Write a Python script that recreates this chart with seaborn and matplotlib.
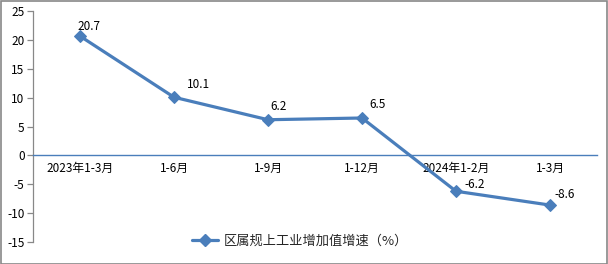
import matplotlib
matplotlib.use("Agg")
import matplotlib.pyplot as plt
import seaborn as sns
import pandas as pd
from matplotlib.patches import Rectangle
from matplotlib.lines import Line2D

categories = ["2023年1-3月", "1-6月", "1-9月", "1-12月", "2024年1-2月", "1-3月"]
values = [20.7, 10.1, 6.2, 6.5, -6.2, -8.6]
value_labels = ["20.7", "10.1", "6.2", "6.5", "-6.2", "-8.6"]
series_name = "区属规上工业增加值增速（%）"
yticks = [-15, -10, -5, 0, 5, 10, 15, 20, 25]

sns.set_theme(style="white")
plt.rcParams["font.family"] = ["Noto Sans CJK SC", "DejaVu Sans"]
plt.rcParams["axes.unicode_minus"] = False

color = "#4a7ebb"
df = pd.DataFrame({"x": range(len(categories)), "v": values})

fig = plt.figure(figsize=(6.08, 2.64), dpi=100)
ax = fig.add_axes([33 / 608, 1 - 242 / 264, (597 - 33) / 608, (242 - 11.3) / 264])

sns.lineplot(data=df, x="x", y="v", ax=ax, color=color, linewidth=2.3,
             marker="D", markersize=6.5, markeredgecolor=color, legend=False)

for s in ["top", "right"]:
    ax.spines[s].set_visible(False)
ax.spines["left"].set_color("#888888")
ax.spines["left"].set_linewidth(0.9)
ax.spines["bottom"].set_position(("data", 0))
ax.spines["bottom"].set_color(color)
ax.spines["bottom"].set_linewidth(1.0)

ax.set_xlim(-0.5, len(categories) - 0.5)
ax.set_ylim(-15, 25)
ax.set_yticks(yticks)
ax.set_yticklabels([str(t) for t in yticks])
ax.set_xticks(range(len(categories)))
ax.set_xticklabels(categories)
ax.set_xticks([i + 0.5 for i in range(len(categories))], minor=True)
ax.tick_params(axis="x", which="major", length=0, pad=5, labelsize=8.5, labelcolor="#000000")
ax.tick_params(axis="x", which="minor", length=4, width=0.9, color=color, direction="out")
ax.tick_params(axis="y", which="major", length=4, width=0.9, color="#888888",
               direction="out", left=True, pad=2, labelsize=8.5, labelcolor="#000000")
ax.set_xlabel("")
ax.set_ylabel("")
ax.grid(False)

offsets = [(9, 10), (24, 13), (11, 13), (16, 13), (19, 7), (15, 11)]
for i, (v, lab) in enumerate(zip(values, value_labels)):
    ax.annotate(lab, (i, v), xytext=(offsets[i][0] * 0.72, offsets[i][1] * 0.72),
                textcoords="offset points", ha="center", va="center",
                fontsize=8.5, color="#000000")

handle = Line2D([0], [0], color=color, linewidth=2.3, marker="D", markersize=6.5)
fig.legend([handle], [series_name], loc="center", bbox_to_anchor=(300 / 608, 1 - 241 / 264),
           frameon=False, fontsize=9.5, handlelength=2.0, handletextpad=0.4)

fig.patches.append(Rectangle((0.5 / 608, 0.5 / 264), 1 - 1.5 / 608, 1 - 1.5 / 264,
                             transform=fig.transFigure, fill=False,
                             edgecolor="#888888", linewidth=1.2))

fig.savefig("out.png", dpi=100)
